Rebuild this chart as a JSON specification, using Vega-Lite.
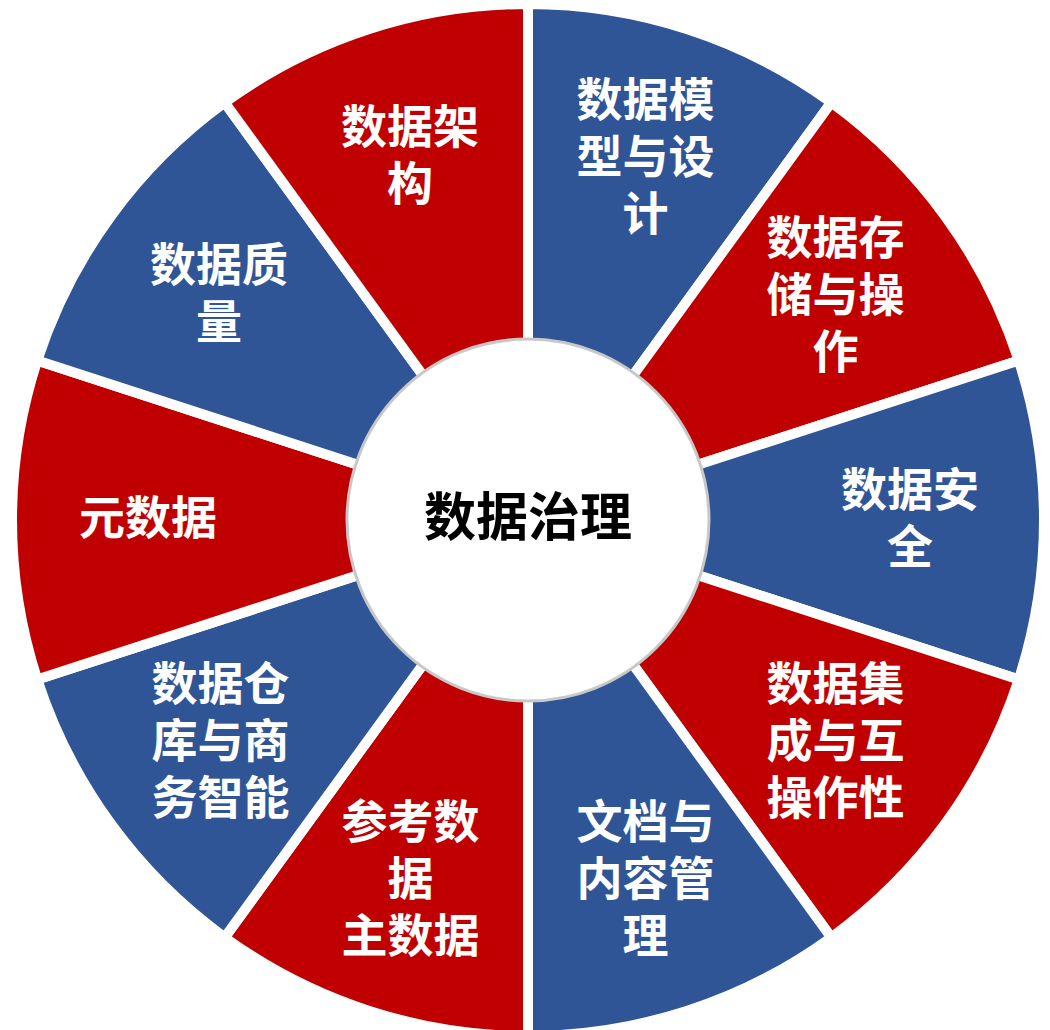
{
  "$schema": "https://vega.github.io/schema/vega-lite/v6.json",
  "width": 1050,
  "height": 1030,
  "autosize": {"type": "fit", "contains": "padding"},
  "padding": {"left": 6, "top": 10, "right": 0, "bottom": 0},
  "background": "white",
  "config": {"view": {"stroke": null}},
  "datasets": {
    "segments": [
      {"i": 1, "label": "数据模\n型与设\n计", "group": "blue", "v": 1},
      {"i": 2, "label": "数据存\n储与操\n作", "group": "red", "v": 1},
      {"i": 3, "label": "数据安\n全", "group": "blue", "v": 1},
      {"i": 4, "label": "数据集\n成与互\n操作性", "group": "red", "v": 1},
      {"i": 5, "label": "文档与\n内容管\n理", "group": "blue", "v": 1},
      {"i": 6, "label": "参考数\n据\n主数据", "group": "red", "v": 1},
      {"i": 7, "label": "数据仓\n库与商\n务智能", "group": "blue", "v": 1},
      {"i": 8, "label": "元数据", "group": "red", "v": 1},
      {"i": 9, "label": "数据质\n量", "group": "blue", "v": 1},
      {"i": 10, "label": "数据架\n构", "group": "red", "v": 1}
    ],
    "center": [{"label": "数据治理", "v": 1}]
  },
  "resolve": {"scale": {"theta": "independent"}},
  "layer": [
    {
      "data": {"name": "segments"},
      "mark": {"type": "arc", "outerRadius": 516, "innerRadius": 0, "stroke": "white", "strokeWidth": 10},
      "encoding": {
        "theta": {"field": "v", "type": "quantitative", "stack": true},
        "order": {"field": "i", "type": "quantitative"},
        "color": {"field": "group", "type": "nominal", "scale": {"domain": ["blue", "red"], "range": ["#2F5597", "#C00000"]}, "legend": null}
      }
    },
    {
      "data": {"name": "segments"},
      "transform": [{"filter": "length(split(datum.label, '\\n')) == 1"}],
      "mark": {"type": "text", "radius": 380, "dy": 0, "fill": "white", "fontSize": 46, "fontWeight": "bold", "font": "Noto Sans CJK SC", "lineBreak": "\n", "lineHeight": 57, "align": "center", "baseline": "middle"},
      "encoding": {
        "theta": {"field": "i", "type": "quantitative", "stack": null, "scale": {"domain": [0.5, 10.5], "range": [0, 6.283185307179586]}},
        "text": {"field": "label", "type": "nominal"}
      }
    },
    {
      "data": {"name": "segments"},
      "transform": [{"filter": "length(split(datum.label, '\\n')) == 2"}],
      "mark": {"type": "text", "radius": 382, "dy": -28, "fill": "white", "fontSize": 46, "fontWeight": "bold", "font": "Noto Sans CJK SC", "lineBreak": "\n", "lineHeight": 57, "align": "center", "baseline": "middle"},
      "encoding": {
        "theta": {"field": "i", "type": "quantitative", "stack": null, "scale": {"domain": [0.5, 10.5], "range": [0, 6.283185307179586]}},
        "text": {"field": "label", "type": "nominal"}
      }
    },
    {
      "data": {"name": "segments"},
      "transform": [{"filter": "length(split(datum.label, '\\n')) == 3"}],
      "mark": {"type": "text", "radius": 380, "dy": -57, "fill": "white", "fontSize": 46, "fontWeight": "bold", "font": "Noto Sans CJK SC", "lineBreak": "\n", "lineHeight": 57, "align": "center", "baseline": "middle"},
      "encoding": {
        "theta": {"field": "i", "type": "quantitative", "stack": null, "scale": {"domain": [0.5, 10.5], "range": [0, 6.283185307179586]}},
        "text": {"field": "label", "type": "nominal"}
      }
    },
    {
      "data": {"name": "center"},
      "mark": {"type": "arc", "outerRadius": 181, "innerRadius": 0, "fill": "white", "stroke": "#c8c8c8", "strokeWidth": 3},
      "encoding": {
        "theta": {"field": "v", "type": "quantitative", "stack": true}
      }
    },
    {
      "data": {"name": "center"},
      "mark": {"type": "text", "fill": "black", "fontSize": 52, "fontWeight": "bold", "font": "Noto Sans CJK SC", "align": "center", "baseline": "middle"},
      "encoding": {
        "text": {"field": "label", "type": "nominal"}
      }
    }
  ]
}
